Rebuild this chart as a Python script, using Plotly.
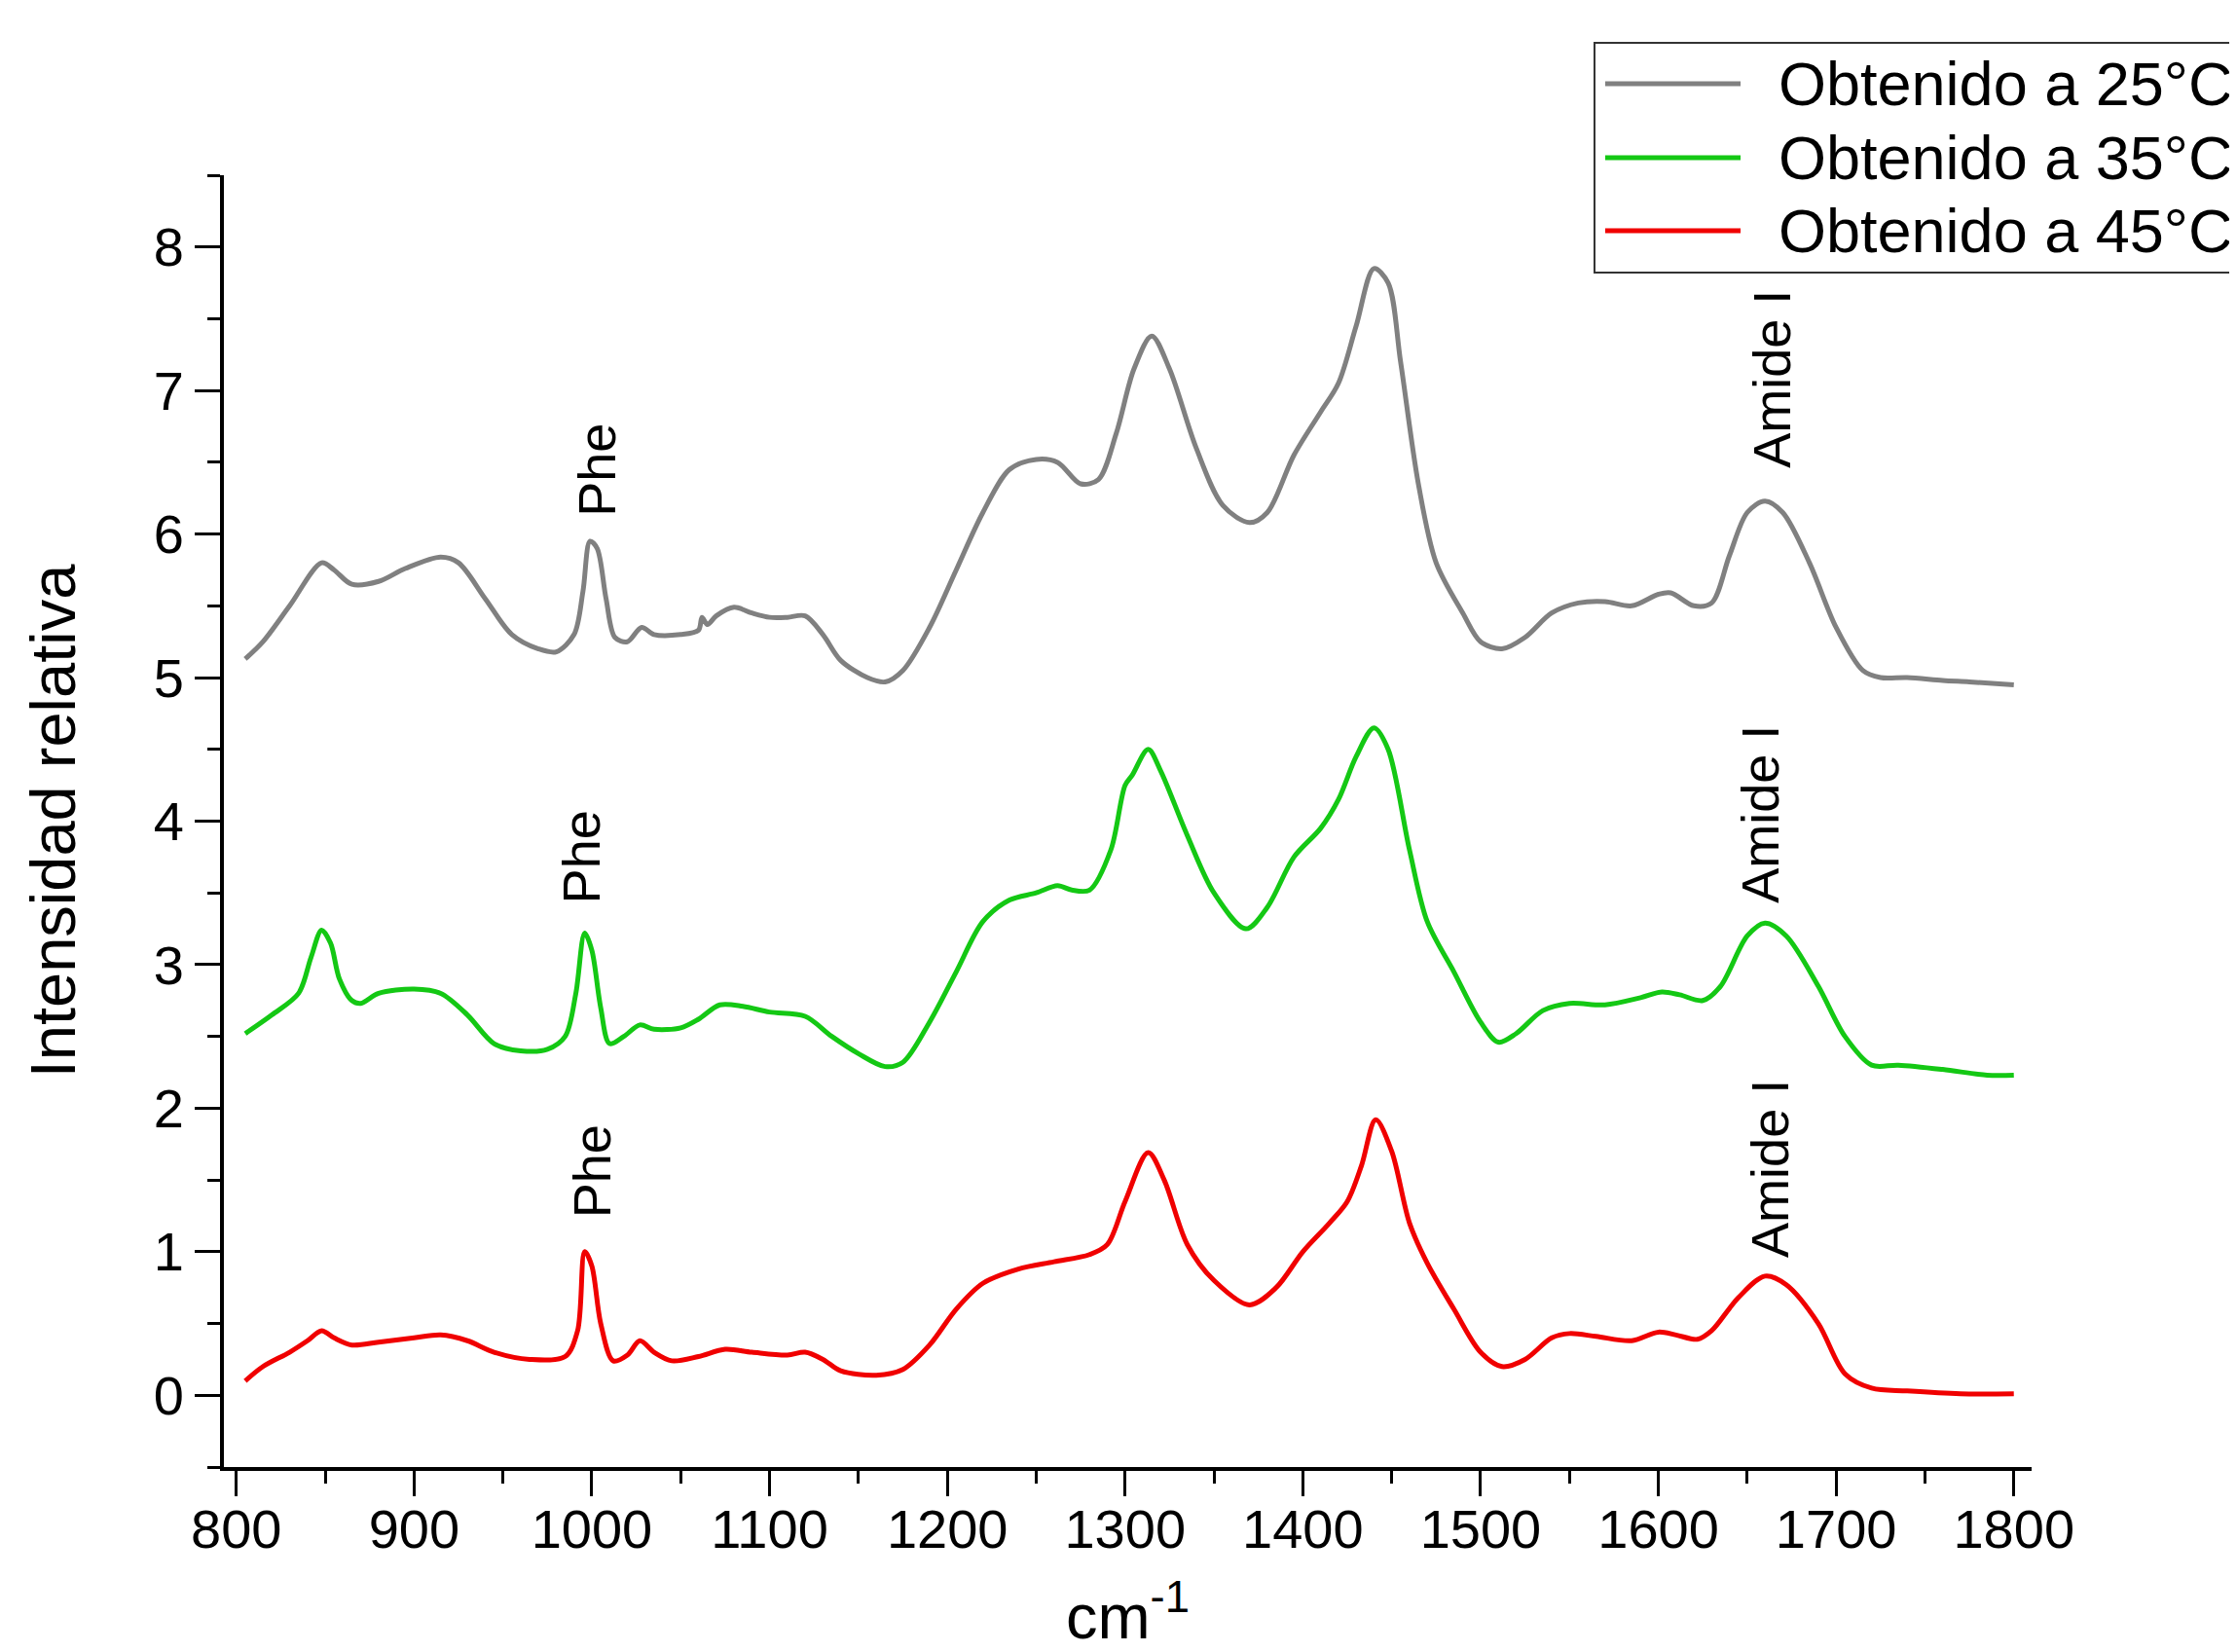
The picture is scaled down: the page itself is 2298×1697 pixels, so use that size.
import plotly.graph_objects as go

# ---------------- data ----------------
x_25 = [805, 815, 830, 848, 855, 865, 880, 895, 915, 925, 940, 955, 970, 980, 990, 995, 999,
        1003, 1008, 1013, 1020, 1028, 1035, 1050, 1060, 1062, 1065, 1070, 1080, 1090, 1100,
        1110, 1120, 1130, 1140, 1155, 1165, 1175, 1190, 1205, 1220, 1235, 1250, 1262, 1275,
        1285, 1295, 1305, 1315, 1325, 1340, 1355, 1370, 1380, 1395, 1410, 1420, 1430, 1440,
        1448, 1455, 1465, 1475, 1490, 1500, 1512, 1525, 1540, 1555, 1570, 1585, 1600, 1607,
        1620, 1630, 1640, 1650, 1660, 1670, 1685, 1700, 1715, 1725, 1740, 1760, 1775, 1800]
y_25 = [5.13, 5.25, 5.5, 5.8, 5.75, 5.65, 5.67, 5.76, 5.84, 5.8, 5.55, 5.3, 5.2, 5.18, 5.3, 5.6, 5.95,
        5.9, 5.55, 5.28, 5.25, 5.35, 5.3, 5.3, 5.33, 5.42, 5.37, 5.43, 5.49, 5.45, 5.42,
        5.42, 5.43, 5.3, 5.12, 5.0, 4.97, 5.05, 5.35, 5.75, 6.15, 6.45, 6.52, 6.5, 6.35,
        6.38, 6.7, 7.15, 7.38, 7.15, 6.6, 6.2, 6.08, 6.15, 6.55, 6.85, 7.05, 7.45, 7.85,
        7.75, 7.2, 6.35, 5.8, 5.45, 5.25, 5.2, 5.28, 5.45, 5.52, 5.53, 5.5, 5.58, 5.59,
        5.5, 5.52, 5.85, 6.15, 6.23, 6.15, 5.8, 5.35, 5.05, 5.0, 5.0, 4.98, 4.97, 4.95]

x_35 = [805, 820, 835, 842, 848, 853, 858, 865, 870, 880, 900, 915, 930, 945, 960, 975, 985,
        991, 996, 1000, 1005, 1010, 1018, 1027, 1035, 1050, 1060, 1072, 1085, 1100, 1120,
        1135, 1150, 1165, 1175, 1190, 1205, 1220, 1235, 1250, 1262, 1270, 1280, 1292, 1300,
        1304, 1313, 1320, 1335, 1350, 1368, 1380, 1395, 1410, 1420, 1430, 1440, 1448, 1460,
        1470, 1485, 1500, 1510, 1520, 1535, 1550, 1570, 1590, 1602, 1612, 1625, 1635, 1650,
        1660, 1672, 1690, 1705, 1720, 1735, 1760, 1785, 1800]
y_35 = [2.52, 2.65, 2.8, 3.05, 3.24, 3.15, 2.9, 2.75, 2.73, 2.8, 2.83, 2.8, 2.65, 2.45, 2.4, 2.41, 2.5,
        2.8, 3.22, 3.1, 2.7, 2.45, 2.5, 2.58, 2.55, 2.56, 2.62, 2.72, 2.71, 2.67, 2.64,
        2.5, 2.38, 2.29, 2.32, 2.6, 2.95, 3.3, 3.45, 3.5, 3.55, 3.52, 3.52, 3.8, 4.25,
        4.32, 4.5, 4.35, 3.9, 3.5, 3.25, 3.4, 3.75, 3.95, 4.15, 4.45, 4.65, 4.5, 3.8,
        3.3, 2.95, 2.6, 2.46, 2.52, 2.68, 2.73, 2.72, 2.77, 2.81, 2.79, 2.75, 2.85, 3.2,
        3.29, 3.2, 2.85, 2.5, 2.3, 2.3, 2.27, 2.23, 2.23]

x_45 = [805, 815, 830, 840, 848, 855, 865, 880, 900, 915, 930, 945, 965, 985, 992, 996, 1000,
        1005, 1012, 1020, 1027, 1035, 1045, 1060, 1075, 1090, 1110, 1120, 1130, 1140, 1160,
        1175, 1190, 1205, 1220, 1240, 1260, 1280, 1290, 1300, 1313, 1322, 1335, 1350, 1370,
        1385, 1400, 1415, 1425, 1433, 1441, 1450, 1460, 1470, 1485, 1500, 1512, 1525, 1540,
        1550, 1565, 1585, 1600, 1610, 1622, 1630, 1645, 1660, 1672, 1690, 1705, 1720, 1740,
        1770, 1800]
y_45 = [0.1, 0.2, 0.3, 0.38, 0.45, 0.4, 0.35, 0.37, 0.4, 0.42, 0.38, 0.3, 0.25, 0.27, 0.45, 1.0, 0.9,
        0.5, 0.24, 0.28, 0.38, 0.3, 0.24, 0.27, 0.32, 0.3, 0.28, 0.3, 0.25, 0.17, 0.14,
        0.18, 0.35, 0.6, 0.78, 0.88, 0.93, 0.98, 1.05, 1.35, 1.69, 1.5, 1.05, 0.8, 0.63,
        0.75, 1.0, 1.2, 1.35, 1.6, 1.92, 1.7, 1.2, 0.92, 0.6, 0.3, 0.2, 0.25, 0.4,
        0.43, 0.41, 0.38, 0.44, 0.42, 0.39, 0.45, 0.68, 0.83, 0.77, 0.5, 0.15, 0.05, 0.03,
        0.01, 0.01]

series_names = ["Obtenido a 25°C", "Obtenido a 35°C", "Obtenido a 45°C"]
series_colors = ["#808080", "#14c814", "#f00000"]

label_text = ["Phe", "Phe", "Phe", "Amide I", "Amide I", "Amide I"]
label_x = [1003, 994, 1000, 1664, 1657, 1663]
label_y = [6.45, 3.75, 1.56, 7.08, 4.05, 1.58]

x_ticks = [800, 900, 1000, 1100, 1200, 1300, 1400, 1500, 1600, 1700, 1800]
y_ticks = [0, 1, 2, 3, 4, 5, 6, 7, 8]

FONT = "Liberation Sans, Arial, sans-serif"

fig = go.Figure()
for xs, ys, name, col in zip([x_25, x_35, x_45], [y_25, y_35, y_45], series_names, series_colors):
    fig.add_trace(go.Scatter(x=xs, y=ys, mode="lines", name=name, showlegend=False,
                             line=dict(color=col, width=5, shape="spline", smoothing=0.9)))

for t, xv, yv in zip(label_text, label_x, label_y):
    fig.add_annotation(x=xv, y=yv, xref="x", yref="y", text=t, textangle=-90, showarrow=False,
                       xanchor="center", yanchor="middle",
                       font=dict(family=FONT, size=54, color="black"))

# manual legend (paper coordinates)
fig.add_shape(type="rect", xref="paper", yref="paper", x0=0.7582, x1=1.13, y0=0.9247, y1=1.1025,
              line=dict(color="#333333", width=2), fillcolor="white", layer="above")
leg_y = [1.0709, 1.0136, 0.9571]
for name, col, ly in zip(series_names, series_colors, leg_y):
    fig.add_shape(type="line", xref="paper", yref="paper", x0=0.7641, x1=0.8390, y0=ly, y1=ly,
                  line=dict(color=col, width=5), layer="above")
    fig.add_annotation(x=0.8589, y=ly, xref="paper", yref="paper", text=name, showarrow=False,
                       xanchor="left", yanchor="middle",
                       font=dict(family=FONT, size=63, color="black"))

axis_common = dict(showline=True, linecolor="black", linewidth=4, ticks="outside", ticklen=26,
                   tickwidth=3, tickcolor="black", showgrid=False, zeroline=False, mirror=False,
                   tickfont=dict(family=FONT, size=56, color="black"))

fig.update_xaxes(range=[793, 1810], tickvals=x_ticks, **axis_common, ticklabelstandoff=-14,
                 minor=dict(dtick=50, tick0=800, ticks="outside", ticklen=13, tickwidth=3, tickcolor="black"),
                 title=dict(text="cm<sup>-1</sup>", font=dict(family=FONT, size=65, color="black"), standoff=48))
fig.update_yaxes(range=[-0.5, 8.5], tickvals=y_ticks, **axis_common,
                 minor=dict(dtick=0.5, tick0=0, ticks="outside", ticklen=13, tickwidth=3, tickcolor="black"),
                 title=dict(text="Intensidad relativa", font=dict(family=FONT, size=65, color="black"), standoff=60))

# the page body adds an 8px offset, so the figure is 8px smaller and margins shifted
fig.update_layout(width=2290, height=1689, plot_bgcolor="white", paper_bgcolor="white",
                  margin=dict(l=222, r=211, t=172, b=190, autoexpand=False),
                  font=dict(family=FONT, color="black"))

fig.write_html("out.html")
